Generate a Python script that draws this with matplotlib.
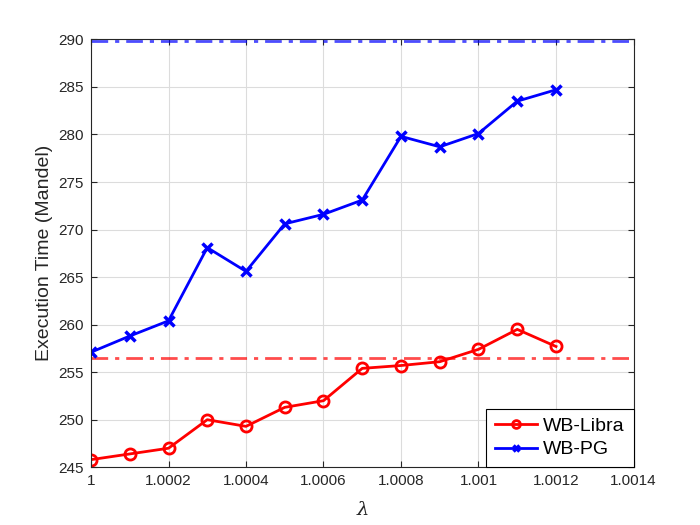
import matplotlib
matplotlib.use("Agg")
import matplotlib.pyplot as plt

# lambda values and execution times
lam = [1.0000, 1.0001, 1.0002, 1.0003, 1.0004, 1.0005, 1.0006,
       1.0007, 1.0008, 1.0009, 1.0010, 1.0011, 1.0012]
wb_libra = [245.8, 246.4, 247.0, 250.0, 249.3, 251.3, 252.0,
            255.4, 255.7, 256.1, 257.4, 259.5, 257.7]
wb_pg = [257.1, 258.8, 260.4, 268.1, 265.6, 270.6, 271.6,
         273.1, 279.8, 278.7, 280.1, 283.5, 284.7]
libra_ref = 256.5
pg_ref = 289.8

xticks = [1.0, 1.0002, 1.0004, 1.0006, 1.0008, 1.001, 1.0012, 1.0014]
xticklabels = ["1", "1.0002", "1.0004", "1.0006", "1.0008", "1.001", "1.0012", "1.0014"]
yticks = [245, 250, 255, 260, 265, 270, 275, 280, 285, 290]

plt.rcParams['font.family'] = ['Liberation Sans', 'DejaVu Sans']
plt.rcParams['mathtext.fontset'] = 'dejavuserif'
dark = '#262626'

fig = plt.figure(figsize=(7, 5.25), dpi=100)
ax = fig.add_axes([0.13, 0.11, 0.775, 0.815])

# reference levels (dash-dot)
ax.axhline(libra_ref, color='red', alpha=0.7, lw=2, ls='-.', dashes=(6, 2.5, 1.5, 2.5))
ax.axhline(pg_ref, color='blue', alpha=0.7, lw=2, ls='-.', dashes=(6, 2.5, 1.5, 2.5))

ax.plot(lam, wb_libra, color='red', lw=2, marker='o', ms=8, mew=2,
        mfc='none', label='WB-Libra')
ax.plot(lam, wb_pg, color='blue', lw=2, marker='x', ms=6.5, mew=2.5,
        label='WB-PG')

ax.set_xlim(1.0, 1.0014)
ax.set_ylim(245, 290)
ax.set_xticks(xticks)
ax.set_xticklabels(xticklabels)
ax.set_yticks(yticks)

ax.grid(True, color='#dcdcdc', lw=0.8)
ax.set_axisbelow(True)
ax.tick_params(direction='in', top=True, right=True, length=4,
               labelsize=11, colors=dark, pad=5)
for s in ax.spines.values():
    s.set_color(dark)
    s.set_linewidth(0.8)

ax.set_xlabel(r'$\lambda$', fontsize=14, color=dark, labelpad=9)
ax.set_ylabel('Execution Time (Mandel)', fontsize=14, color=dark, labelpad=4)

leg = ax.legend(loc='lower right', fontsize=14, fancybox=False,
                framealpha=1, edgecolor='black', borderaxespad=0,
                handlelength=2.2, handletextpad=0.3, borderpad=0.45,
                labelspacing=0.3, markerscale=0.7)
leg.get_frame().set_linewidth(0.8)

fig.savefig('out.png', dpi=100)
